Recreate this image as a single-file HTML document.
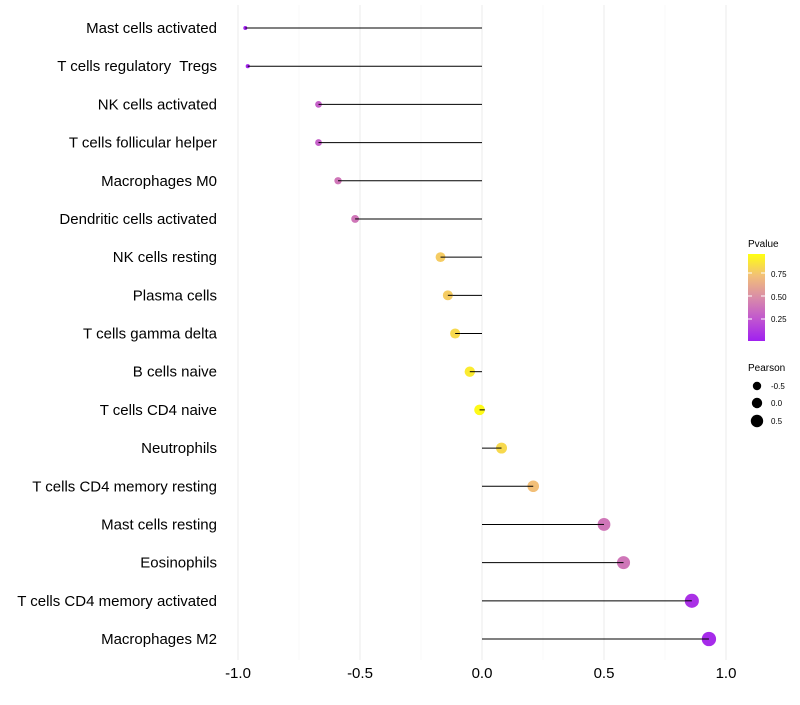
<!DOCTYPE html>
<html><head><meta charset="utf-8"><style>
body{margin:0;background:#fff;font-family:"Liberation Sans",sans-serif}
text{white-space:pre}
</style></head><body>
<svg id="c" width="800" height="700" xmlns="http://www.w3.org/2000/svg" xml:space="preserve">
<defs><linearGradient id="pg" x1="0" y1="1" x2="0" y2="0">
<stop offset="0" stop-color="#a020f0"/><stop offset="0.25" stop-color="#c055d0"/><stop offset="0.5" stop-color="#d98ca8"/><stop offset="0.75" stop-color="#f2bf78"/><stop offset="1" stop-color="#ffff10"/></linearGradient></defs>
<g id="grid"></g><g id="marks"></g><g id="labels"></g>
<g font-size="10">
<text x="748" y="247">Pvalue</text>
<rect x="748" y="254" width="17" height="87" fill="url(#pg)"/>
<line x1="748" x2="752" y1="273" y2="273" stroke="#fff"/><line x1="761" x2="765" y1="273" y2="273" stroke="#fff"/>
<line x1="748" x2="752" y1="296" y2="296" stroke="#fff"/><line x1="761" x2="765" y1="296" y2="296" stroke="#fff"/>
<line x1="748" x2="752" y1="319" y2="319" stroke="#fff"/><line x1="761" x2="765" y1="319" y2="319" stroke="#fff"/>
<text x="771" y="277" font-size="8">0.75</text><text x="771" y="300" font-size="8">0.50</text><text x="771" y="322" font-size="8">0.25</text>
</g>
<g font-size="10">
<text x="748" y="371">Pearson</text>
<circle cx="757" cy="386" r="4.2" fill="#000"/><text x="771" y="389" font-size="8">-0.5</text>
<circle cx="757" cy="403" r="5.2" fill="#000"/><text x="771" y="406" font-size="8">0.0</text>
<circle cx="757" cy="421" r="6.2" fill="#000"/><text x="771" y="424" font-size="8">0.5</text>
</g>
</svg>
<script>
const categories=["Mast cells activated","T cells regulatory  Tregs","NK cells activated","T cells follicular helper","Macrophages M0","Dendritic cells activated","NK cells resting","Plasma cells","T cells gamma delta","B cells naive","T cells CD4 naive","Neutrophils","T cells CD4 memory resting","Mast cells resting","Eosinophils","T cells CD4 memory activated","Macrophages M2"];
const pearson=[-0.97,-0.96,-0.67,-0.67,-0.59,-0.52,-0.17,-0.14,-0.11,-0.05,-0.01,0.08,0.21,0.50,0.58,0.86,0.93];
const pvalues=[0.0,0.02,0.3,0.3,0.4,0.4,0.8,0.8,0.85,0.92,0.98,0.85,0.75,0.4,0.4,0.08,0.05];
const xTicks=[-1.0,-0.5,0.0,0.5,1.0];
const xTickLabels=["-1.0","-0.5","0.0","0.5","1.0"];
const NS="http://www.w3.org/2000/svg";
const x=v=>482+v*244;
const y=i=>28+i*(611/(categories.length-1));
const rad=v=>Math.sqrt(3.24+(v+1)/2*50);
const stops=[[0,[160,32,240]],[0.25,[192,85,208]],[0.5,[217,140,168]],[0.75,[242,191,120]],[1,[255,255,16]]];
function col(p){for(let k=1;k<stops.length;k++){if(p<=stops[k][0]){const a=stops[k-1],b=stops[k],t=(p-a[0])/(b[0]-a[0]);return "rgb("+a[1].map((c,j)=>Math.round(c+(b[1][j]-c)*t)).join(",")+")";}}return "rgb(255,255,16)";}
function mk(tag,at,parent){const e=document.createElementNS(NS,tag);for(const k in at)e.setAttribute(k,at[k]);document.getElementById(parent).appendChild(e);return e;}
for(let v=-1;v<=1.001;v+=0.25){const major=Math.abs(v*2-Math.round(v*2))<1e-6;
const g=mk("line",{x1:x(v),x2:x(v),y1:5,y2:660,stroke:major?"#ebebeb":"#f5f5f5","stroke-width":major?1:0.6},"grid");

}
xTicks.forEach((v,i)=>{const t=mk("text",{x:x(v),y:678,"text-anchor":"middle","font-size":15,fill:"#000"},"labels");t.textContent=xTickLabels[i];

});
categories.forEach((c,i)=>{
const t=mk("text",{x:217,y:y(i)+5,"text-anchor":"end","font-size":15,fill:"#000"},"labels");t.textContent=c;


const l=mk("line",{x1:x(0),x2:x(pearson[i]),y1:y(i),y2:y(i),stroke:"#000","stroke-width":1},"marks");


const p=mk("circle",{cx:x(pearson[i]),cy:y(i),r:rad(pearson[i]),fill:col(pvalues[i])},"marks");


const l2=mk("line",{x1:x(pearson[i]),x2:x(pearson[i])+(pearson[i]<0?rad(pearson[i]):-rad(pearson[i])),y1:y(i),y2:y(i),stroke:"#000","stroke-width":1},"marks");


});
</script>
</body></html>
